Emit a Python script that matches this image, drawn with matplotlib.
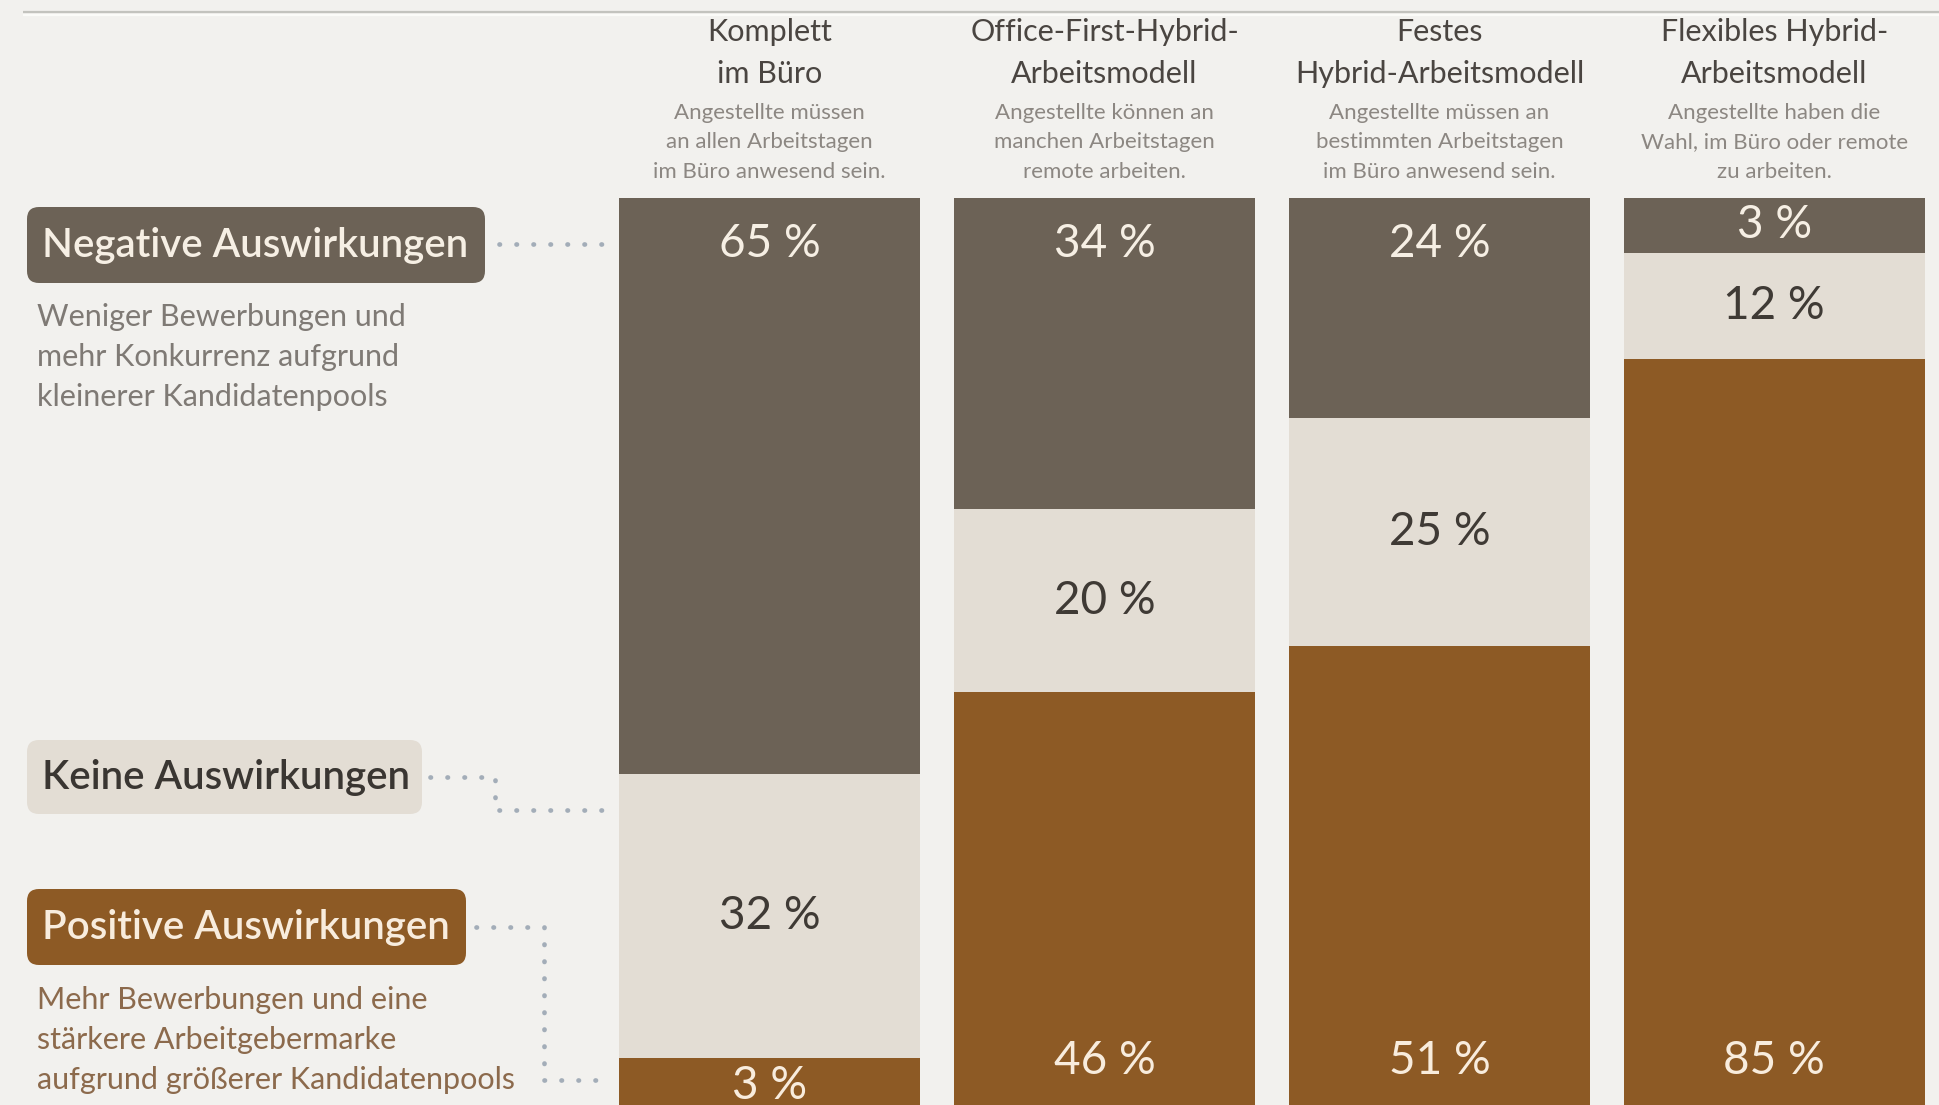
import numpy as np
import matplotlib
matplotlib.use('Agg')
import matplotlib.pyplot as plt
from matplotlib.patches import FancyBboxPatch

plt.rcParams['font.family'] = ['Lato', 'DejaVu Sans']

BG = '#F2F1EE'
NEG_COL = '#6C6256'
NONE_COL = '#E3DDD4'
POS_COL = '#8D5A25'
DOT_COL = '#A3ADB8'

models = ['Komplett\nim Büro',
          'Office-First-Hybrid-\nArbeitsmodell',
          'Festes\nHybrid-Arbeitsmodell',
          'Flexibles Hybrid-\nArbeitsmodell']
model_notes = ['Angestellte müssen\nan allen Arbeitstagen\nim Büro anwesend sein.',
               'Angestellte können an\nmanchen Arbeitstagen\nremote arbeiten.',
               'Angestellte müssen an\nbestimmten Arbeitstagen\nim Büro anwesend sein.',
               'Angestellte haben die\nWahl, im Büro oder remote\nzu arbeiten.']

negative = [65, 34, 24, 3]
neutral = [32, 20, 25, 12]
positive = [3, 46, 51, 85]

impact_labels = ['Negative Auswirkungen', 'Keine Auswirkungen', 'Positive Auswirkungen']
impact_notes = ['Weniger Bewerbungen und\nmehr Konkurrenz aufgrund\nkleinerer Kandidatenpools',
                '',
                'Mehr Bewerbungen und eine\nstärkere Arbeitgebermarke\naufgrund größerer Kandidatenpools']

W, H = 1939, 1105
fig = plt.figure(figsize=(W / 100, H / 100), dpi=100, facecolor=BG)

# overlay in pixel units for header, legend boxes and connectors
ov = fig.add_axes([0, 0, 1, 1], zorder=0)
ov.set_xlim(0, W)
ov.set_ylim(H, 0)
ov.axis('off')
ov.plot([23, W], [12, 12], color='#C3C3BE', lw=1.6, solid_capstyle='butt')
ov.plot([23, W], [14.5, 14.5], color='#FBFBF8', lw=1.6, solid_capstyle='butt')

# stacked bars, 0 at the top, 100 at the bottom
px_per_pct = 9.15
bar_top = 198
bar_left, bar_right = 619, 1925
ax = fig.add_axes([bar_left / W, 0, (bar_right - bar_left) / W, (H - bar_top) / H], zorder=2)
ax.set_facecolor('none')
ax.set_xlim(-0.45, len(models) - 1 + 0.45)
ax.set_ylim((H - bar_top) / px_per_pct, 0)
ax.axis('off')


def shown_heights(values, floor=6.0):
    # tiny shares get a minimum height so their label still fits
    vals = np.array(values, dtype=float)
    small = vals < floor
    out = vals.copy()
    out[small] = floor
    out[~small] = vals[~small] * (100 - out[small].sum()) / vals[~small].sum()
    return out


x = np.arange(len(models))
shares = np.array([negative, neutral, positive], dtype=float).T
heights = np.array([shown_heights(row) for row in shares])
bottoms = np.cumsum(heights, axis=1) - heights

seg_colors = [NEG_COL, NONE_COL, POS_COL]
text_colors = ['#F6EFE4', '#3F3A35', '#F8ECDD']
for k in range(3):
    ax.bar(x, heights[:, k], bottom=bottoms[:, k], width=0.9,
           color=seg_colors[k], edgecolor='none')
    for i in x:
        b, h = bottoms[i, k], heights[i, k]
        yc = b + h / 2
        if k == 0:
            yc = min(b + 5.0, yc)
        elif k == 2:
            yc = max(94.3, yc)
        ax.text(i, yc, f'{int(shares[i, k])} %', ha='center', va='center',
                fontsize=33, color=text_colors[k])

# column headers
centers = [bar_left + (xi + 0.45) / 3.9 * (bar_right - bar_left) for xi in x]
for cx, title, note in zip(centers, models, model_notes):
    for j, line in enumerate(title.split('\n')):
        ov.text(cx, 32 + 42 * j, line, ha='center', va='center',
                fontsize=22, color='#4A4541')
    for j, line in enumerate(note.split('\n')):
        ov.text(cx, 113 + 29.5 * j, line, ha='center', va='center',
                fontsize=16, color='#8C8782')

# legend boxes on the left
boxes = [(27, 207, 458, 76), (27, 740, 395, 74), (27, 889, 439, 76)]
box_text = ['#F6EFE4', '#3A3632', '#F8ECDD']
for (bx, by, bw, bh), lab, fc, tc in zip(boxes, impact_labels, seg_colors, box_text):
    ov.add_patch(FancyBboxPatch((bx + 8, by + 8), bw - 16, bh - 16,
                                boxstyle='round,pad=8,rounding_size=12',
                                facecolor=fc, edgecolor='none'))
    ov.text(bx + 15, by + bh / 2, lab, ha='left', va='center',
            fontsize=29, color=tc, fontweight='semibold')

note_pos = [(37, 317), None, (37, 1000)]
note_cols = ['#7F7A75', None, '#8C6A4C']
for pos, note, col in zip(note_pos, impact_notes, note_cols):
    if pos is None:
        continue
    for j, line in enumerate(note.split('\n')):
        ov.text(pos[0], pos[1] + 40 * j, line, ha='left', va='center',
                fontsize=22, color=col)

dots = dict(color=DOT_COL, lw=3.4, linestyle=(0, (0.1, 3.5)),
            dash_capstyle='round', solid_capstyle='round')
ov.plot([499, 604], [244, 244], **dots)
ov.plot([430, 495, 495, 604], [777, 777, 810, 810], **dots)
ov.plot([476, 544, 544, 612], [927, 927, 1080, 1080], **dots)

fig.savefig('out.png', dpi=100, facecolor=BG)
